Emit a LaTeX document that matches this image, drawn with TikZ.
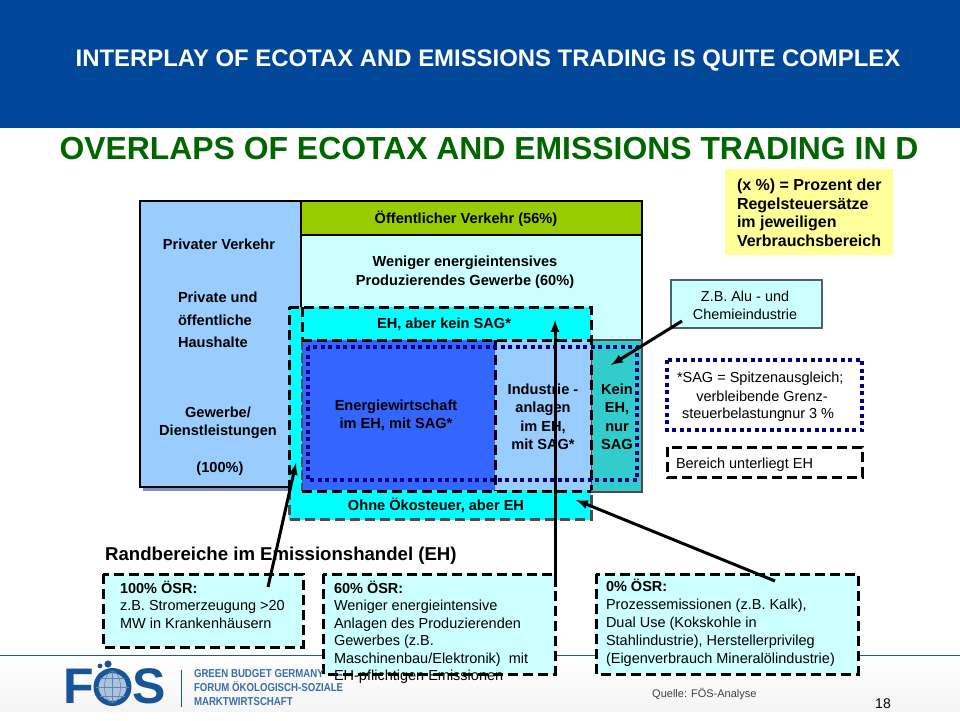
\documentclass[tikz,border=0pt]{standalone}
\usepackage{fontspec}
\setmainfont{Liberation Sans}
\usetikzlibrary{arrows,positioning,calc}
\definecolor{headblue}{RGB}{0,71,153}
\definecolor{titlegreen}{RGB}{0,102,0}
\definecolor{privatblue}{RGB}{153,204,255}
\definecolor{oevgreen}{RGB}{153,204,0}
\definecolor{palecyan}{RGB}{204,255,255}
\definecolor{fullcyan}{RGB}{0,255,255}
\definecolor{energyblue}{RGB}{51,102,255}
\definecolor{sagteal}{RGB}{51,204,204}
\definecolor{notegelb}{RGB}{255,255,153}
\definecolor{sagnavy}{RGB}{0,0,128}
\definecolor{logoblue}{RGB}{24,84,150}
\definecolor{footline}{RGB}{30,90,150}
\definecolor{alurand}{RGB}{70,100,110}
\tikzset{
  panel/.style={anchor=north west,inner sep=0pt,outer sep=0pt},
  ehdash/.style={draw=black,line width=3pt,dash pattern=on 10pt off 5pt},
  sagdots/.style={draw=sagnavy,line width=4pt,dash pattern=on 4pt off 3.5pt},
  boldtext/.style={inner sep=0pt,font=\fontsize{14.6}{18.5}\selectfont\bfseries,align=center},
  bodytext/.style={panel,font=\fontsize{14.5}{17.5}\selectfont,align=left},
  pointer/.style={line width=3pt,-latex,black},
}
\begin{document}
\begin{tikzpicture}[x=1pt,y=-1pt]
  \useasboundingbox (0,0) rectangle (960,720);
  % draw header and footer
  \fill[white] (0,0) rectangle (960,720);
  \fill[headblue] (0,0) rectangle (960,128);
  \shade[top color=white,bottom color=black!4] (0,656) rectangle (960,711);
  \draw[footline,line width=1pt] (0,655) -- (960,655);
  \node[inner sep=0pt,text=white,font=\fontsize{23.9}{26}\selectfont\bfseries] (headline) at (488,61) {INTERPLAY OF ECOTAX AND EMISSIONS TRADING IS QUITE COMPLEX};
  \node[inner sep=0pt,text=titlegreen,font=\fontsize{31.9}{34}\selectfont\bfseries] (subline) at (489,149) {OVERLAPS OF ECOTAX AND EMISSIONS TRADING IN D};

  % draw sector blocks
  \fill[black!25!privatblue] (143,204) rectangle (304,491);
  \node[panel,draw=black,line width=2pt,fill=privatblue,minimum width=161pt,minimum height=286pt] (privat) at (140,201) {};
  \node[panel,draw=black,line width=2pt,fill=palecyan,minimum width=341pt,minimum height=139pt] (weniger) at (301,201) {};
  \node[panel,draw=black,line width=1.5pt,fill=oevgreen,minimum width=341pt,minimum height=34pt] (oev) at (301,201) {};
  \node[panel,draw=black!70,line width=2pt,fill=sagteal,minimum width=51pt,minimum height=152pt] (kein) at (591,340) {};
  \node[panel,fill=fullcyan,minimum width=302pt,minimum height=213pt] (ehfeld) at (289,307) {};
  \node[panel,fill=energyblue,minimum width=193pt,minimum height=150pt] (energie) at (302,340) {};
  \node[panel,fill=privatblue,minimum width=96pt,minimum height=150pt] (anlagen) at (495,340) {};

  % draw dashed frames
  \draw[ehdash] (289,307) -- (591,307) -- (591,490);
  \draw[ehdash] (289,490) -- (289,307);
  \draw[ehdash] (302,307) -- (302,340);
  \draw[black!70,line width=1.5pt,dash pattern=on 10pt off 3pt] (302,340) -- (302,491);
  \draw[ehdash] (302,491) -- (591,491);
  \draw[ehdash] (302,340) -- (591,340);
  \draw[ehdash] (495,340) -- (495,491);
  \draw[draw=black!70,line width=3pt,dash pattern=on 10pt off 5pt] (289,490) -- (289,519) -- (591,519) -- (591,492);
  \draw[sagdots] (308,347) rectangle (637,480);

  % draw block labels
  \node[boldtext] (privatverkehr) at (219,244) {Privater Verkehr};
  \node[boldtext,panel,align=left,font=\fontsize{14.6}{22.5}\selectfont\bfseries] (haushalte) at (178,292) {Private und\\öffentliche\\Haushalte};
  \node[boldtext] (gewerbe) at (218,423) {Gewerbe/\\Dienstleistungen};
  \node[boldtext] (hundert) at (220,469) {(100\%)};
  \node[boldtext] (oevtext) at (466,219) {Öffentlicher Verkehr (56\%)};
  \node[boldtext] (wenigertext) at (465,272) {Weniger energieintensives\\Produzierendes Gewerbe (60\%)};
  \node[boldtext] (ehtext) at (444,324) {EH, aber kein SAG*};
  \node[boldtext] (energietext) at (396,415.5) {Energiewirtschaft\\im EH, mit SAG*};
  \node[boldtext] (anlagentext) at (543,417) {Industrie -\\anlagen\\im EH,\\mit SAG*};
  \node[boldtext] (keintext) at (617,417) {Kein\\EH,\\nur\\SAG};
  \node[boldtext] (ohnetext) at (436,505) {Ohne Ökosteuer, aber EH};

  % draw legend
  \node[panel,fill=notegelb,minimum width=168pt,minimum height=86pt] (prozent) at (725,169) {};
  \node[panel,align=left,font=\fontsize{16}{18.7}\selectfont\bfseries] (prozenttext) at (737,179) {(x \%) = Prozent der\\Regelsteuersätze\\im jeweiligen\\Verbrauchsbereich};
  \node[panel,draw=alurand,line width=2pt,fill=palecyan,minimum width=151pt,minimum height=48pt] (alu) at (671,280) {};
  \node[inner sep=0pt,align=center,font=\fontsize{14.4}{18}\selectfont] (alutext) at (745,305) {Z.B. Alu - und\\Chemieindustrie};
  \draw[sagdots] (667,360) rectangle (862,430);
  \node[panel,font=\fontsize{14.5}{18.5}\selectfont] (sagtexta) at (677,372) {*SAG = Spitzenausgleich;};
  \node[inner sep=0pt,font=\fontsize{14.5}{18.5}\selectfont] (sagtextb) at (762,396) {verbleibende Grenz-};
  \node[panel,font=\fontsize{14.5}{18.5}\selectfont] (sagtextc) at (682,408) {steuerbelastung\hspace{-1pt}nur 3 \%};
  \draw[ehdash] (667,447) rectangle (862,477);
  \node[panel,font=\fontsize{14.5}{18.5}\selectfont] (ehlegende) at (676,458) {Bereich unterliegt EH};

  % draw boxes below
  \node[inner sep=0pt,anchor=west,font=\fontsize{18.6}{20}\selectfont\bfseries] (randtitel) at (105,556) {Randbereiche im Emissionshandel (EH)};
  \node[panel,fill=palecyan,minimum width=200pt,minimum height=73pt] (hundertbox) at (103,574) {};
  \draw[ehdash] (103,574) rectangle (303,647);
  \node[bodytext] (hunderttext) at (120,581) {\textbf{100\% ÖSR:}\\z.B. Stromerzeugung >20\\MW in Krankenhäusern};
  \node[panel,fill=palecyan,minimum width=232pt,minimum height=100pt] (sechzigbox) at (323,574) {};
  \node[bodytext] (sechzigtext) at (334,581) {\textbf{60\% ÖSR:}\\Weniger energieintensive\\Anlagen des Produzierenden\\Gewerbes (z.B.\\Maschinenbau/Elektronik) \ mit\\EH-pflichtigen Emissionen};
  \draw[ehdash] (323,574) rectangle (555,674);
  \node[panel,fill=palecyan,minimum width=262pt,minimum height=100pt] (nullbox) at (596,574) {};
  \draw[ehdash] (596,574) rectangle (858,674);
  \node[bodytext,font=\fontsize{14.5}{18}\selectfont] (nulltext) at (606,579) {\textbf{0\% ÖSR:}\\Prozessemissionen (z.B. Kalk),\\Dual Use (Kokskohle in\\Stahlindustrie), Herstellerprivileg\\(Eigenverbrauch Mineralölindustrie)};

  % draw pointers
  \coordinate (hundertfuss) at (268,587);
  \coordinate (hundertziel) at (296,463);
  \coordinate (sechzigfuss) at (555,587);
  \coordinate (sechzigziel) at (555,320);
  \coordinate (nullfuss) at (775,581);
  \coordinate (nullziel) at (576,500);
  \coordinate (alufuss) at (682,321);
  \coordinate (aluziel) at (611,365);
  \draw[pointer] (hundertfuss) -- (hundertziel);
  \draw[pointer] (sechzigfuss) -- (sechzigziel);
  \draw[pointer] (nullfuss) -- (nullziel);
  \draw[pointer] (alufuss) -- (aluziel);

  % draw logo
  \node[inner sep=0pt,anchor=east,text=logoblue,font=\fontsize{50}{50}\selectfont\bfseries] (logof) at (94,686) {F};
  \node[inner sep=0pt,anchor=west,text=logoblue,font=\fontsize{50}{50}\selectfont\bfseries] (logos) at (132,686) {S};
  \draw[logoblue,line width=5pt,fill=logoblue!35] (112.5,687) circle (16.5);
  \draw[logoblue!70,line width=.6pt] (96,687) -- (129,687) (112.5,671) -- (112.5,703) (100,678) -- (125,678) (100,696) -- (125,696);
  \draw[logoblue!70,line width=.6pt] (112.5,687) ellipse (8 and 16);
  \fill[logoblue] (108,664) circle (3.6) (100,666) circle (2.4);
  \draw[logoblue,line width=.8pt] (181,670) -- (181,707);
  \node[panel,xscale=.84,transform shape,text=logoblue!85,align=left,font=\fontsize{11.5}{14.2}\selectfont\bfseries] (logotext) at (194,669) {GREEN BUDGET GERMANY\\FORUM ÖKOLOGISCH-SOZIALE\\MARKTWIRTSCHAFT};
  \node[inner sep=0pt,anchor=west,text=black!75,font=\fontsize{11}{13}\selectfont] (quelle) at (652,694) {Quelle: FÖS-Analyse};
  \node[inner sep=0pt,font=\fontsize{14}{16}\selectfont] (seite) at (883,704) {18};
\end{tikzpicture}
\end{document}
